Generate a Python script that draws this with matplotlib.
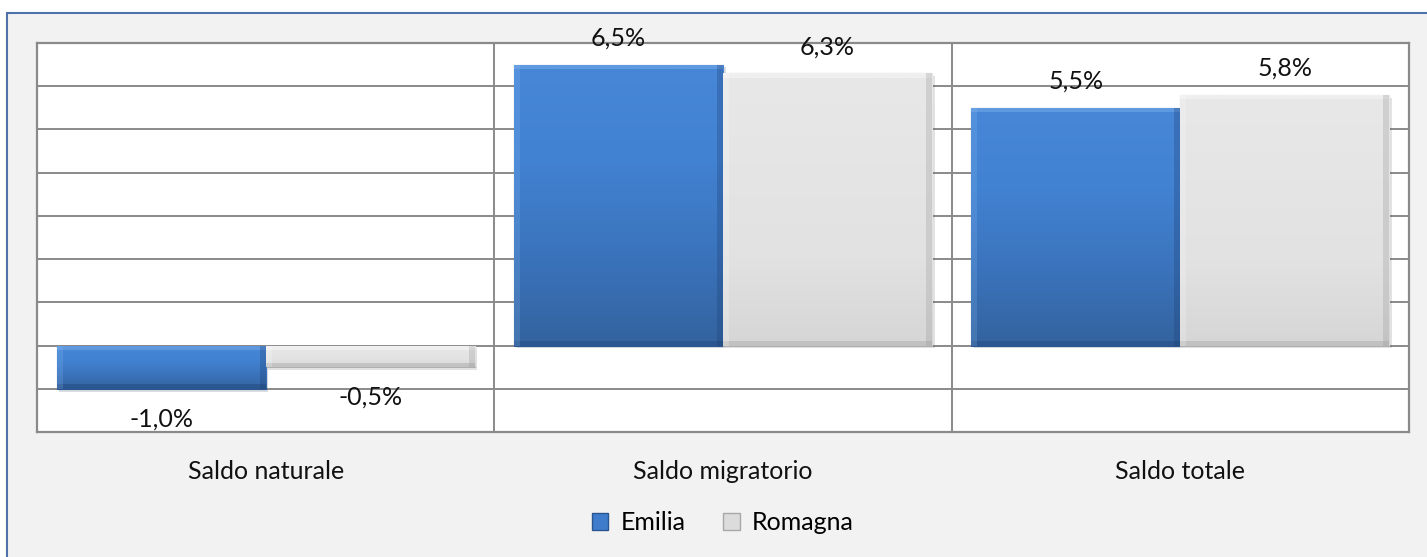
import numpy as np
import matplotlib
matplotlib.use("Agg")
import matplotlib.pyplot as plt
import matplotlib.patheffects as pe
from matplotlib.patches import Patch, Rectangle
from matplotlib.colors import LinearSegmentedColormap

# --- Dati ---
categorie = ["Saldo naturale", "Saldo migratorio", "Saldo totale"]
serie     = ["Emilia", "Romagna"]
emilia    = [-1.0, 6.5, 5.5]
romagna   = [-0.5, 6.3, 5.8]
etichette_emilia  = ["-1,0%", "6,5%", "5,5%"]
etichette_romagna = ["-0,5%", "6,3%", "5,8%"]

plt.rcParams["font.family"] = ["Lato", "DejaVu Sans"]

BG       = "#f2f2f2"
GRID     = "#8a8a8a"
FRAME    = "#4f72a8"
W        = 0.457
FS       = 18

blue_cmap = LinearSegmentedColormap.from_list("b", ["#33639f", "#3b74bd", "#4282d2", "#4887d8"])
grey_cmap = LinearSegmentedColormap.from_list("g", ["#d6d6d6", "#e2e2e2", "#e5e5e5", "#e8e8e8"])

fig = plt.figure(figsize=(14.27, 5.57), dpi=100)
fig.patch.set_facecolor("white")

# cornice esterna
fig.patches.append(Rectangle((7 / 1427, -0.05), 1.0, 1.05 - 13 / 557, transform=fig.transFigure,
                             facecolor=BG, edgecolor=FRAME, linewidth=1.5, zorder=-5))

ax = fig.add_axes([37 / 1427, 1 - 432 / 557, (1409 - 37) / 1427, (432 - 43) / 557])
ax.set_zorder(2)
ax.set_facecolor("white")
ax.set_xlim(-0.5, 2.5)
ax.set_ylim(-2, 7)

x = np.arange(len(categorie))

# griglia
for v in range(-1, 7):
    ax.axhline(v, color=GRID, lw=1.4, zorder=1)
for v in [0.5, 1.5]:
    ax.axvline(v, color=GRID, lw=1.4, zorder=1)
for s in ax.spines.values():
    s.set_color(GRID)
    s.set_linewidth(1.6)


def draw_bars(xpos, vals, cmap, edge, light, dark):
    bars = ax.bar(xpos, vals, W, color=cmap(0.6), edgecolor=edge, linewidth=0.8, zorder=3,
                  path_effects=[pe.SimplePatchShadow(offset=(2, -2), alpha=0.15), pe.Normal()])
    grad = np.linspace(0, 1, 100).reshape(-1, 1)
    for b in bars:
        x0, y0 = b.get_x(), b.get_y()
        w, h = b.get_width(), b.get_height()
        lo, hi = min(y0, y0 + h), max(y0, y0 + h)
        im = ax.imshow(grad, cmap=cmap, aspect="auto", origin="lower",
                       extent=[x0, x0 + w, lo, hi], zorder=4)
        im.set_clip_path(b)
        # smussatura
        bev_x, bev_y = 0.013, 0.1
        ax.add_patch(Rectangle((x0, hi - bev_y), w, bev_y, facecolor=light,
                               alpha=0.35, lw=0, zorder=5, clip_path=b))
        ax.add_patch(Rectangle((x0, lo), w, bev_y, facecolor=dark,
                               alpha=0.35, lw=0, zorder=5, clip_path=b))
        ax.add_patch(Rectangle((x0 + w - bev_x, lo), bev_x, hi - lo, facecolor=dark,
                               alpha=0.3, lw=0, zorder=5, clip_path=b))
        ax.add_patch(Rectangle((x0, lo), bev_x, hi - lo, facecolor=light,
                               alpha=0.2, lw=0, zorder=5, clip_path=b))
    return bars


b1 = draw_bars(x - W / 2, emilia, blue_cmap, "#2a5590", "#8cc0f5", "#1d3f73")
b2 = draw_bars(x + W / 2, romagna, grey_cmap, "#b0b0b0", "#ffffff", "#9a9a9a")

for bars, labels in [(b1, etichette_emilia), (b2, etichette_romagna)]:
    for b, lab in zip(bars, labels):
        v = b.get_height()
        yend = b.get_y() + v
        off = 19.0 if v >= 0 else -21.5
        ax.annotate(lab, (b.get_x() + b.get_width() / 2, yend), xytext=(0, off),
                    textcoords="offset points", ha="center", va="center",
                    fontsize=FS, color="#111111", zorder=6, annotation_clip=False)

ax.set_xticks(x)
ax.set_xticklabels(categorie, fontsize=FS, color="#111111")
ax.tick_params(axis="x", length=0, pad=20)
ax.set_yticks([])

handles = [Patch(facecolor="#3f7dcc", edgecolor="#2a5590"),
           Patch(facecolor="#dcdcdc", edgecolor="#a8a8a8")]
fig.legend(handles, serie, loc="center", bbox_to_anchor=(723 / 1427, 1 - 523 / 557),
           ncol=2, frameon=False, fontsize=FS, handlelength=0.65, handleheight=0.65,
           handletextpad=0.5, columnspacing=1.5)

fig.savefig("out.png", dpi=100, facecolor=fig.get_facecolor())
